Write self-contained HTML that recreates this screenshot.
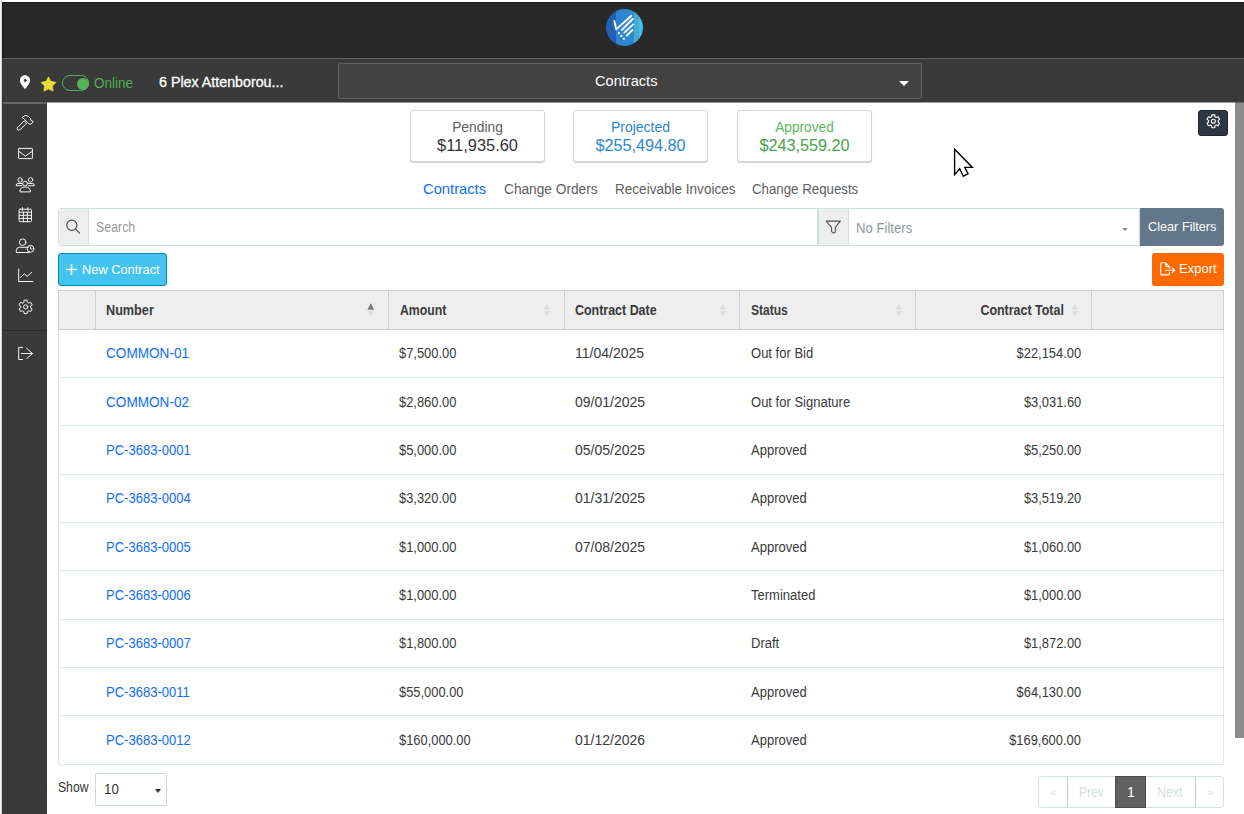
<!DOCTYPE html>
<html><head><meta charset="utf-8">
<style>
*{box-sizing:border-box;margin:0;padding:0}
html,body{width:1244px;height:814px;overflow:hidden;background:#fff;font-family:"Liberation Sans",sans-serif;}
.a{position:absolute}
.t{position:absolute;white-space:nowrap;line-height:1}
#lstrip{left:0;top:0;width:2px;height:814px;background:linear-gradient(90deg,#f3f3f3 0 1px,#d9d9d9 1px 2px)}
#hdr{left:2px;top:2px;width:1242px;height:55px;background:#292929}
#hl1{left:2px;top:57px;width:1242px;height:1px;background:#222}
#hl2{left:2px;top:58px;width:1242px;height:1px;background:#646464}
#bar{left:2px;top:59px;width:1242px;height:43px;background:#3a3a3a}
#barh{left:47px;top:102px;width:1188px;height:1px;background:#9d9d9d}
#barh2{left:1235px;top:102px;width:9px;height:1px;background:#636363}
#hb{left:2px;top:2px;width:1242px;height:1px;background:#1b1b1b}
#lb1{left:2px;top:2px;width:1px;height:56px;background:#1b1b1b}
#lb2{left:2px;top:58px;width:1px;height:756px;background:#333}
#side{left:2px;top:102px;width:45px;height:712px;background:#3a3a3a;border-top:2px solid #676767;border-right:1px solid #353535}
#sep{left:2px;top:330px;width:44px;height:1px;background:#2b2b2b}
#sbar{left:1235px;top:103px;width:9px;height:635px;background:#8c8c8c}
.card{position:absolute;top:110px;width:135px;height:52px;border:1px solid #ccd8dc;border-radius:3px;box-shadow:0 1px 1px rgba(0,0,0,.18);background:#fff}
.card .l{position:absolute;left:0;right:0;top:9px;text-align:center;font-size:14px;line-height:14px}
.card .v{position:absolute;left:0;right:0;top:27px;text-align:center;font-size:16px;line-height:16px}
.th{position:absolute;top:290px;height:40px;background:#eee;border-top:1px solid #cfcfcf;border-bottom:1px solid #cfcfcf}
.thd{position:absolute;top:291px;height:38px;width:1px;background:#cfcfcf}
.hl{font-weight:bold;font-size:14px;color:#3a3a3a}
.rowb{position:absolute;left:58px;width:1166px;height:1px;background:#dbeae2}
.c{position:absolute;font-size:14px;color:#3a3a3a;white-space:nowrap;line-height:1}
.lnk{color:#0d6efd}
</style></head><body>
<div class="a" id="lstrip"></div>
<div class="a" id="hdr"></div>
<div class="a" id="hl1"></div>
<div class="a" id="hl2"></div>
<div class="a" id="bar"></div>
<div class="a" id="barh"></div>
<div class="a" id="barh2"></div>
<div class="a" id="side"></div>
<div class="a" id="sep"></div>
<div class="a" id="sbar"></div>
<div class="a" id="hb"></div>
<div class="a" id="lb1"></div>
<div class="a" id="lb2"></div>

<!-- logo -->
<div class="a" style="left:605.8px;top:8.8px;width:37.4px;height:37.4px;border-radius:50%;background:linear-gradient(90deg,#1f60b0 0 10.1px,#2a84ce 10.1px 16.1px,#2b88d1 16.1px 27.7px,#4ba9ca 27.7px 33.5px,#3cc2f2 33.5px)"></div>
<svg class="a" style="left:605px;top:8px" width="40" height="40" viewBox="0 0 40 40">
 <g stroke="#fff" stroke-width="1.9" stroke-linecap="round" stroke-linejoin="round" fill="none">
  <polyline points="9.3,12.9 11.2,21.4 26.4,7.7"/>
  <line x1="16.8" y1="21.9" x2="27.8" y2="11"/>
  <line x1="19.3" y1="24.6" x2="28.2" y2="16.4"/>
  <line x1="21.8" y1="27.5" x2="27.6" y2="21.9"/>
 </g>
 <g fill="#fff"><circle cx="13.9" cy="25" r="1.15"/><circle cx="16.4" cy="27.9" r="1.15"/><circle cx="18.9" cy="30.8" r="1.15"/></g>
</svg>

<!-- bar2 -->
<svg class="a" style="left:19px;top:75px" width="12" height="16" viewBox="0 0 12 16">
 <path d="M6 0.2C3 0.2 0.9 2.5 0.9 5.5 0.9 8.9 6 14.1 6 14.1S11.1 8.9 11.1 5.5C11.1 2.5 9 0.2 6 0.2Z" fill="#fff"/>
 <circle cx="6.3" cy="5.5" r="1.45" fill="#3a3a3a"/>
</svg>
<svg class="a" style="left:40px;top:76px" width="17" height="16" viewBox="0 0 24 23">
 <path d="M12.00 1.20 L15.59 7.66 L22.84 9.08 L17.80 14.49 L18.70 21.82 L12.00 18.70 L5.30 21.82 L6.20 14.49 L1.16 9.08 L8.41 7.66Z" fill="#ecdc38" stroke="#ecdc38" stroke-width="0.8" stroke-linejoin="round"/>
</svg>
<div class="a" style="left:62px;top:75px;width:27px;height:16px;border:1.3px solid #4caf50;border-radius:8px"></div>
<div class="a" style="left:77px;top:77.5px;width:12px;height:12px;border-radius:50%;background:#57b05a"></div>
<div class="t" style="left:94px;top:76px;font-size:14px;color:#4caf50;transform-origin:left;transform:scaleX(0.964);">Online</div>
<div class="t" style="left:159px;top:75px;font-size:14px;color:#fff;-webkit-text-stroke:0.3px #fff;transform-origin:left;transform:scaleX(1.018);">6 Plex Attenborou...</div>
<div class="a" style="left:338px;top:63px;width:584px;height:36px;background:#434343;border:1px solid #636363;border-radius:2px"></div>
<div class="t" style="left:595px;top:74px;font-size:14px;color:#fff;transform-origin:left;transform:scaleX(1.042);">Contracts</div>
<svg class="a" style="left:899px;top:81px" width="10" height="5" viewBox="0 0 10 5"><path d="M0 0h10L5 5z" fill="#fff"/></svg>

<!-- gear button -->
<div class="a" style="left:1198px;top:110px;width:30px;height:26px;background:#2d3741;border:1px solid #1d2329;border-radius:3px"></div>

<!-- cards -->
<div class="card" style="left:410px"><div class="l" style="color:#5e5e5e;transform:scaleX(0.986)">Pending</div><div class="v" style="color:#333;transform:scaleX(1.025)">$11,935.60</div></div>
<div class="card" style="left:573px"><div class="l" style="color:#2b87cc">Projected</div><div class="v" style="color:#2b87cc;transform:scaleX(1.013)">$255,494.80</div></div>
<div class="card" style="left:737px"><div class="l" style="color:#5cb85c;transform:scaleX(0.977)">Approved</div><div class="v" style="color:#43a647;transform:scaleX(1.013)">$243,559.20</div></div>

<!-- tabs -->
<div class="t" style="left:423px;top:182px;font-size:14px;color:#0d6efd;transform-origin:left;transform:scaleX(1.053);">Contracts</div>
<div class="t" style="left:504px;top:182px;font-size:14px;color:#5e5e5e;transform-origin:left;transform:scaleX(0.978);">Change Orders</div>
<div class="t" style="left:615px;top:182px;font-size:14px;color:#5e5e5e;transform-origin:left;transform:scaleX(0.968);">Receivable Invoices</div>
<div class="t" style="left:752px;top:182px;font-size:14px;color:#5e5e5e;transform-origin:left;transform:scaleX(0.948);">Change Requests</div>

<!-- search bar -->
<div class="a" style="left:58px;top:208px;width:1082px;height:38px;border:1px solid #cfdfe0;border-radius:3px 0 0 3px;background:#fff"></div>
<div class="a" style="left:59px;top:209px;width:30px;height:36px;background:#eee;border-right:1px solid #cfdfe0;border-radius:2px 0 0 2px"></div>
<svg class="a" style="left:65px;top:219px" width="16" height="16" viewBox="0 0 16 16"><circle cx="6.8" cy="6.2" r="5.1" fill="none" stroke="#4a4a4a" stroke-width="1.15"/><path d="M10.5 9.9L14.6 14.2" stroke="#4a4a4a" stroke-width="1.15" stroke-linecap="round"/></svg>
<div class="t" style="left:96px;top:220px;font-size:14px;color:#999;transform-origin:left;transform:scaleX(0.884);">Search</div>
<div class="a" style="left:817px;top:209px;width:32px;height:36px;background:#eee;border-left:2px solid #cfdfe0;border-right:1px solid #cfdfe0"></div>
<svg class="a" style="left:825px;top:219px" width="17" height="16" viewBox="0 0 17 16"><path d="M1.2 2.1H15.4L10.3 8.4V13.4L8.6 14L6.6 12.6V8.4Z" fill="none" stroke="#4f4f4f" stroke-width="1.05" stroke-linejoin="round"/></svg>
<div class="t" style="left:856px;top:221px;font-size:14px;color:#8a9a9a;transform-origin:left;transform:scaleX(0.939);">No Filters</div>
<svg class="a" style="left:1122px;top:228px" width="6" height="3" viewBox="0 0 6 3"><path d="M0 0h6L3 3z" fill="#888"/></svg>
<div class="a" style="left:1140px;top:208px;width:84px;height:38px;background:#627789;border-radius:0 3px 3px 0"></div>
<div class="t" style="left:1148px;top:219.7px;font-size:13px;color:#fff;transform-origin:left;transform:scaleX(0.977);">Clear Filters</div>

<!-- buttons -->
<div class="a" style="left:58px;top:253px;width:109px;height:33px;background:#43c4ee;border:1px solid #0a88ad;border-radius:3px"></div>
<svg class="a" style="left:66px;top:264px" width="11" height="11" viewBox="0 0 11 11"><path d="M5.5 0V11M0 5.5H11" stroke="#fff" stroke-width="1.5"/></svg>
<div class="t" style="left:82px;top:263.3px;font-size:13px;color:#fff;transform-origin:left;transform:scaleX(0.986);">New Contract</div>
<div class="a" style="left:1152px;top:253px;width:72px;height:33px;background:#ff6a00;border-radius:3px"></div>
<svg class="a" style="left:1158px;top:261px" width="18" height="16" viewBox="0 0 18 16"><path d="M7.6 1.8H3.7Q2.7 1.8 2.7 2.8V12.9Q2.7 13.9 3.7 13.9H10.3Q11.3 13.9 11.3 12.9V11.4M11.3 7.3V5.6L7.6 1.8M7.8 2.4V4.8Q7.8 5.8 8.8 5.8H11" fill="none" stroke="#fff" stroke-width="1.1" stroke-linejoin="round" stroke-linecap="round"/><path d="M7.4 9.3H16.6M14 6.7L16.7 9.3L14 11.9" fill="none" stroke="#fff" stroke-width="1.1" stroke-linecap="round" stroke-linejoin="round"/></svg>
<div class="t" style="left:1179px;top:263.2px;font-size:12.5px;color:#fff;transform-origin:left;transform:scaleX(1.04)">Export</div>

<!-- table -->
<div class="a" style="left:58px;top:290px;width:1166px;height:40px;background:#eee;border:1px solid #cfcfcf"></div>
<div class="a" style="left:95px;top:291px;width:1px;height:38px;background:#cfcfcf"></div>
<div class="a" style="left:388px;top:291px;width:1px;height:38px;background:#cfcfcf"></div>
<div class="a" style="left:564px;top:291px;width:1px;height:38px;background:#cfcfcf"></div>
<div class="a" style="left:739px;top:291px;width:1px;height:38px;background:#cfcfcf"></div>
<div class="a" style="left:915px;top:291px;width:1px;height:38px;background:#cfcfcf"></div>
<div class="a" style="left:1091px;top:291px;width:1px;height:38px;background:#cfcfcf"></div>
<div class="a" style="left:58px;top:330px;width:1px;height:435px;background:#dbeae2"></div>
<div class="a" style="left:1223px;top:330px;width:1px;height:435px;background:#dbeae2"></div>
<div class="rowb" style="top:377px"></div>
<div class="rowb" style="top:425px"></div>
<div class="rowb" style="top:474px"></div>
<div class="rowb" style="top:522px"></div>
<div class="rowb" style="top:570px"></div>
<div class="rowb" style="top:619px"></div>
<div class="rowb" style="top:667px"></div>
<div class="rowb" style="top:715px"></div>
<div class="rowb" style="top:764px"></div>
<div class="c hl" style="left:106px;top:303px;transform:scaleX(0.904);transform-origin:left;">Number</div>
<div class="c hl" style="left:400px;top:303px;transform:scaleX(0.875);transform-origin:left;">Amount</div>
<div class="c hl" style="left:575px;top:303px;transform:scaleX(0.889);transform-origin:left;">Contract Date</div>
<div class="c hl" style="left:751px;top:303px;transform:scaleX(0.858);transform-origin:left;">Status</div>
<div class="c hl" style="right:180px;top:303px;transform:scaleX(0.889);transform-origin:right;">Contract Total</div>
<svg class="a" style="left:367px;top:302px" width="8" height="16" viewBox="0 0 8 16"><path d="M3.8 1.3L7.2 7.8H0.4Z" fill="#7a7a7a"/><path d="M3.8 14.9L7.1 9H0.5Z" fill="#dfe0da"/></svg>
<svg class="a" style="left:543px;top:302px" width="8" height="16" viewBox="0 0 8 16"><path d="M3.8 1.3L7.2 7.8H0.4Z" fill="#dfe0da"/><path d="M3.8 14.9L7.1 9H0.5Z" fill="#dfe0da"/></svg>
<svg class="a" style="left:719px;top:302px" width="8" height="16" viewBox="0 0 8 16"><path d="M3.8 1.3L7.2 7.8H0.4Z" fill="#dfe0da"/><path d="M3.8 14.9L7.1 9H0.5Z" fill="#dfe0da"/></svg>
<svg class="a" style="left:895px;top:302px" width="8" height="16" viewBox="0 0 8 16"><path d="M3.8 1.3L7.2 7.8H0.4Z" fill="#dfe0da"/><path d="M3.8 14.9L7.1 9H0.5Z" fill="#dfe0da"/></svg>
<svg class="a" style="left:1071px;top:302px" width="8" height="16" viewBox="0 0 8 16"><path d="M3.8 1.3L7.2 7.8H0.4Z" fill="#dfe0da"/><path d="M3.8 14.9L7.1 9H0.5Z" fill="#dfe0da"/></svg>
<div class="c lnk" style="left:106px;top:346px;transform:scaleX(0.971);transform-origin:left;">COMMON-01</div>
<div class="c" style="left:399px;top:346px;transform:scaleX(0.921);transform-origin:left;">$7,500.00</div>
<div class="c" style="left:575px;top:346px;transform:scaleX(1.0);transform-origin:left;">11/04/2025</div>
<div class="c" style="left:751px;top:346px;transform:scaleX(0.93);transform-origin:left;">Out for Bid</div>
<div class="c" style="right:163px;top:346px;transform:scaleX(0.921);transform-origin:right;">$22,154.00</div>
<div class="c lnk" style="left:106px;top:395px;transform:scaleX(0.971);transform-origin:left;">COMMON-02</div>
<div class="c" style="left:399px;top:395px;transform:scaleX(0.921);transform-origin:left;">$2,860.00</div>
<div class="c" style="left:575px;top:395px;transform:scaleX(1.0);transform-origin:left;">09/01/2025</div>
<div class="c" style="left:751px;top:395px;transform:scaleX(0.93);transform-origin:left;">Out for Signature</div>
<div class="c" style="right:163px;top:395px;transform:scaleX(0.921);transform-origin:right;">$3,031.60</div>
<div class="c lnk" style="left:106px;top:443px;transform:scaleX(0.93);transform-origin:left;">PC-3683-0001</div>
<div class="c" style="left:399px;top:443px;transform:scaleX(0.921);transform-origin:left;">$5,000.00</div>
<div class="c" style="left:575px;top:443px;transform:scaleX(1.0);transform-origin:left;">05/05/2025</div>
<div class="c" style="left:751px;top:443px;transform:scaleX(0.93);transform-origin:left;">Approved</div>
<div class="c" style="right:163px;top:443px;transform:scaleX(0.921);transform-origin:right;">$5,250.00</div>
<div class="c lnk" style="left:106px;top:491px;transform:scaleX(0.93);transform-origin:left;">PC-3683-0004</div>
<div class="c" style="left:399px;top:491px;transform:scaleX(0.921);transform-origin:left;">$3,320.00</div>
<div class="c" style="left:575px;top:491px;transform:scaleX(1.0);transform-origin:left;">01/31/2025</div>
<div class="c" style="left:751px;top:491px;transform:scaleX(0.93);transform-origin:left;">Approved</div>
<div class="c" style="right:163px;top:491px;transform:scaleX(0.921);transform-origin:right;">$3,519.20</div>
<div class="c lnk" style="left:106px;top:540px;transform:scaleX(0.93);transform-origin:left;">PC-3683-0005</div>
<div class="c" style="left:399px;top:540px;transform:scaleX(0.921);transform-origin:left;">$1,000.00</div>
<div class="c" style="left:575px;top:540px;transform:scaleX(1.0);transform-origin:left;">07/08/2025</div>
<div class="c" style="left:751px;top:540px;transform:scaleX(0.93);transform-origin:left;">Approved</div>
<div class="c" style="right:163px;top:540px;transform:scaleX(0.921);transform-origin:right;">$1,060.00</div>
<div class="c lnk" style="left:106px;top:588px;transform:scaleX(0.93);transform-origin:left;">PC-3683-0006</div>
<div class="c" style="left:399px;top:588px;transform:scaleX(0.921);transform-origin:left;">$1,000.00</div>
<div class="c" style="left:751px;top:588px;transform:scaleX(0.93);transform-origin:left;">Terminated</div>
<div class="c" style="right:163px;top:588px;transform:scaleX(0.921);transform-origin:right;">$1,000.00</div>
<div class="c lnk" style="left:106px;top:636px;transform:scaleX(0.93);transform-origin:left;">PC-3683-0007</div>
<div class="c" style="left:399px;top:636px;transform:scaleX(0.921);transform-origin:left;">$1,800.00</div>
<div class="c" style="left:751px;top:636px;transform:scaleX(0.93);transform-origin:left;">Draft</div>
<div class="c" style="right:163px;top:636px;transform:scaleX(0.921);transform-origin:right;">$1,872.00</div>
<div class="c lnk" style="left:106px;top:685px;transform:scaleX(0.93);transform-origin:left;">PC-3683-0011</div>
<div class="c" style="left:399px;top:685px;transform:scaleX(0.921);transform-origin:left;">$55,000.00</div>
<div class="c" style="left:751px;top:685px;transform:scaleX(0.93);transform-origin:left;">Approved</div>
<div class="c" style="right:163px;top:685px;transform:scaleX(0.921);transform-origin:right;">$64,130.00</div>
<div class="c lnk" style="left:106px;top:733px;transform:scaleX(0.93);transform-origin:left;">PC-3683-0012</div>
<div class="c" style="left:399px;top:733px;transform:scaleX(0.921);transform-origin:left;">$160,000.00</div>
<div class="c" style="left:575px;top:733px;transform:scaleX(1.0);transform-origin:left;">01/12/2026</div>
<div class="c" style="left:751px;top:733px;transform:scaleX(0.93);transform-origin:left;">Approved</div>
<div class="c" style="right:163px;top:733px;transform:scaleX(0.921);transform-origin:right;">$169,600.00</div>

<!-- footer -->
<div class="t" style="left:58px;top:780px;font-size:14px;color:#333;transform-origin:left;transform:scaleX(0.87);">Show</div>
<div class="a" style="left:95px;top:773px;width:72px;height:33px;border:1px solid #cbd9dc;border-radius:2px;background:#fff"></div>
<div class="t" style="left:104px;top:782px;font-size:14px;color:#333;transform-origin:left;transform:scaleX(0.95)">10</div>
<svg class="a" style="left:155px;top:789px" width="6" height="4" viewBox="0 0 6 4"><path d="M0 0h6L3 4z" fill="#333"/></svg>
<div class="a" style="left:1038px;top:776px;width:186px;height:32px;border:1px solid #d3e1e1;border-radius:4px;background:#fff"></div>
<div class="a" style="left:1067px;top:777px;width:1px;height:30px;background:#c5cbcb"></div>
<div class="a" style="left:1195px;top:777px;width:1px;height:30px;background:#c5cbcb"></div>
<div class="a" style="left:1115px;top:776px;width:31px;height:32px;background:#616161;border:1px solid #4a4a4a"></div>
<div class="t" style="left:1050px;top:787px;font-size:11px;color:#d3e0de">&laquo;</div>
<div class="t" style="left:1079px;top:785px;font-size:14px;color:#d3e0de;transform-origin:left;transform:scaleX(0.86)">Prev</div>
<div class="t" style="left:1127px;top:785px;font-size:14px;color:#fff">1</div>
<div class="t" style="left:1157px;top:785px;font-size:14px;color:#d3e0de;transform-origin:left;transform:scaleX(0.885)">Next</div>
<div class="t" style="left:1207px;top:787px;font-size:11px;color:#d3e0de">&raquo;</div>

<!-- sidebar icons -->
<svg class="a" style="left:0;top:0" width="47" height="380" viewBox="0 0 47 380">
 <g fill="none" stroke="#f4f4f4" stroke-width="1" stroke-linejoin="round" stroke-linecap="round">
  <!-- hammer -->
  <path d="M17.4 127.6 L24.2 120.8 L26.6 123.2 L19.8 130 Q18.2 130.4 17.4 129.6 Q16.8 128.6 17.4 127.6Z"/>
  <path d="M22.3 117.1 Q25.4 114.2 28.4 116.3 L30.6 118.6 L30.9 120.3 L33.2 121.6 L31.2 124.1 L29.2 124 L27.4 122.4 L25.2 120.2 L24.3 119.1 Z"/>
  <!-- envelope -->
  <rect x="18.6" y="148.4" width="13.8" height="10.2" rx="0.6"/>
  <path d="M18.8 151.3 L25.5 156.1 L32.2 151.3"/>
  <!-- users -->
  <circle cx="20.1" cy="179.9" r="2.2"/>
  <circle cx="30.5" cy="179.9" r="2.2"/>
  <circle cx="25.1" cy="183.6" r="2.4"/>
  <path d="M21.8 183.5 H18 Q16.2 183.5 16.2 185.4 V185.7 H21.8"/>
  <path d="M28.6 183.5 H32.6 Q34.4 183.5 34.4 185.4 V185.7 H28.6"/>
  <path d="M19.9 191.5 Q19.9 187 25.1 187 Q30.4 187 30.4 191.5 Z"/>
  <!-- calendar -->
  <rect x="19.1" y="209.2" width="12.4" height="12.5" rx="1"/>
  <path d="M22.4 207.6V210.4M27.8 207.6V210.4M19.1 212.2H31.5M19.1 215.3H31.5M19.1 218.4H31.5M23.4 212.2V221.7M27.4 212.2V221.7"/>
  <!-- user clock -->
  <circle cx="22.6" cy="242.2" r="3.3"/>
  <path d="M28.4 247.3 H19.5 Q16.3 247.3 16.3 250.5 V252.5 H29.4"/>
  <circle cx="30.5" cy="248.8" r="3.4"/>
  <path d="M30.5 246.8 V249 H32"/>
  <!-- chart -->
  <path d="M18.7 269 V281.5 H32.9"/>
  <path d="M20.5 277.4 L24.3 273.9 L27.2 276.4 L31.6 272.4"/>
  <!-- gear -->
  <path d="M23.91 302.20 L24.09 300.17 L27.11 300.17 L27.29 302.20 L28.83 303.08 L30.68 302.23 L32.18 304.84 L30.52 306.01 L30.52 307.79 L32.18 308.96 L30.68 311.57 L28.83 310.72 L27.29 311.60 L27.11 313.63 L24.09 313.63 L23.91 311.60 L22.37 310.72 L20.52 311.57 L19.02 308.96 L20.68 307.79 L20.68 306.01 L19.02 304.84 L20.52 302.23 L22.37 303.08Z"/>
  <circle cx="25.6" cy="306.9" r="2.1"/>
  <!-- sign out -->
  <path d="M22.5 347.4 H18.7 V359.5 H22.5"/>
  <path d="M21.3 353.5 H32.4 M26.6 348.2 L32.4 353.5 L26.6 358.7"/>
 </g>
</svg>
<!-- gear button icon -->
<svg class="a" style="left:1200px;top:110px" width="26" height="26" viewBox="1200 110 26 26">
 <g fill="none" stroke="#fff" stroke-width="1.1" stroke-linejoin="round">
 <path d="M1211.64 116.69 L1211.86 114.86 L1214.74 114.86 L1214.96 116.69 L1216.46 117.56 L1218.16 116.83 L1219.60 119.33 L1218.12 120.43 L1218.12 122.17 L1219.60 123.27 L1218.16 125.77 L1216.46 125.04 L1214.96 125.91 L1214.74 127.74 L1211.86 127.74 L1211.64 125.91 L1210.14 125.04 L1208.44 125.77 L1207.00 123.27 L1208.48 122.17 L1208.48 120.43 L1207.00 119.33 L1208.44 116.83 L1210.14 117.56Z"/>
 <circle cx="1213.3" cy="121.3" r="2"/>
 </g>
</svg>
<!-- cursor -->
<svg class="a" style="left:950px;top:145px" width="30" height="36" viewBox="950 145 30 36">
 <path d="M954.6 149.2 V174.6 L959.7 168.8 L963.3 176.2 L968 173.8 L964.8 167.4 L972.4 167.4 Z" fill="#fff" stroke="#000" stroke-width="1.4" stroke-linejoin="miter"/>
</svg>

</body></html>
